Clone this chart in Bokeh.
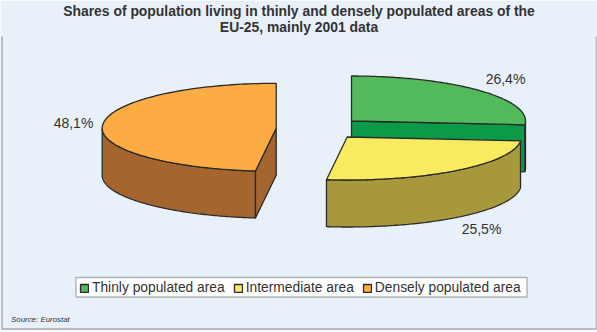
import numpy as np
from bokeh.embed import file_html
from bokeh.resources import INLINE
from bokeh.plotting import figure
from bokeh.models import BoxAnnotation, Legend, LegendItem, Range1d, Title
from bokeh.core.properties import value

categories = ["Thinly populated area", "Intermediate area", "Densely populated area"]
shares = [26.4, 25.5, 48.1]
share_labels = ["26,4%", "25,5%", "48,1%"]
title_lines = ["Shares of population living in thinly and densely populated areas of the",
               "EU-25, mainly 2001 data"]
source_text = "Source: Eurostat"

top_colors = ["#52BA5A", "#F8EB60", "#FCAC42"]
side_colors = ["#0B9A48", "#A7983B", "#A5652F"]
EDGE = "#2A2A2A"
BG = "#E8F0F9"
TEXT = "#333333"

W, H = 597, 332
TITLE_H = 36
RX, RY_BACK, RY_FRONT, DEPTH = 174.0, 45.0, 43.0, 47.0
centers = [(351.0, 120.5), (346.7, 136.5), (275.7, 127.8)]
label_pos = [(505, 78), (481, 228), (73, 122.5)]

p = figure(width=W, height=H, output_backend="svg", toolbar_location=None,
           x_range=Range1d(0, W), y_range=Range1d(H, TITLE_H),
           x_axis_location=None, y_axis_location=None, min_border=0,
           background_fill_color=BG, border_fill_color=BG, outline_line_color=None)
p.grid.visible = False
for i, line in enumerate(title_lines):
    t = p.title if i == 0 else Title()
    t.text = line
    t.align = "center"
    t.text_font = "Liberation Sans"
    t.text_font_size = "13.9px"
    t.text_font_style = "bold"
    t.text_color = TEXT
    t.offset = 0
    t.standoff = 0
    t.vertical_align = "bottom" if i == 0 else "top"
    if i:
        p.add_layout(t, "above")


def ell(cx, cy, t):
    c = np.cos(t)
    return cx + RX * np.sin(t), cy - np.where(c > 0, RY_BACK, RY_FRONT) * c


edges = np.cumsum([0.0] + shares) / sum(shares) * 2 * np.pi
tops = []
for i in [0, 2, 1]:
    cx, cy = centers[i]
    a, b = edges[i], edges[i + 1]
    t = np.linspace(a, b, 120)
    ex, ey = ell(cx, cy, t)
    lo, hi = max(a, np.pi / 2), min(b, 3 * np.pi / 2)
    if hi > lo:
        w = np.linspace(lo, hi, 120)
        wx, wy = ell(cx, cy, w)
        p.patch(list(wx) + list(wx[::-1]), list(wy) + list((wy + DEPTH)[::-1]),
                fill_color=side_colors[i], line_color=EDGE, line_width=1.3)
    # cut face that looks towards the viewer
    ang = b if i == 0 else (a if i == 2 else None)
    if ang is not None:
        sx, sy = ell(cx, cy, ang)
        p.patch([cx, sx, sx, cx], [cy, sy, sy + DEPTH, cy + DEPTH],
                fill_color=side_colors[i], line_color=EDGE, line_width=1.3)
    tops.append((i, p.patch([cx] + list(ex), [cy] + list(ey), fill_color=top_colors[i],
                            line_color=EDGE, line_width=1.3)))

by_series = dict(tops)
p.add_layout(BoxAnnotation(left=75.5, right=526.5, top=277, bottom=296.5, fill_color="white", fill_alpha=1,
                           line_color="#151515", line_width=1.4, level="annotation"))
legend = Legend(items=[LegendItem(label=categories[i], renderers=[by_series[i]]) for i in range(3)],
                orientation="horizontal", location=(79, 37), margin=0, padding=4,
                spacing=8, label_standoff=3, glyph_width=10, glyph_height=10,
                label_text_font="Liberation Sans", label_text_font_size="13.8px",
                label_text_color=TEXT, label_height=14,
                background_fill_alpha=0, border_line_color=None)
p.add_layout(legend, "center")

p.text([q[0] for q in label_pos], [q[1] for q in label_pos], text=share_labels,
       text_font=value("Liberation Sans"), text_font_size="14px", text_color=TEXT,
       text_align="center", text_baseline="middle")
p.text([10.5], [318.5], text=[source_text], text_font=value("Liberation Sans"),
       text_font_size="7.9px", text_font_style="italic", text_color=TEXT,
       text_align="left", text_baseline="middle")

p.add_layout(BoxAnnotation(left=0, right=W, top=330, bottom=H, left_units="canvas", right_units="canvas",
                           top_units="canvas", bottom_units="canvas", fill_color="white", fill_alpha=1, line_color=None, level="overlay"))
p.add_layout(BoxAnnotation(left=1.5, right=596, top=1, bottom=328.5, left_units="canvas", right_units="canvas",
                           top_units="canvas", bottom_units="canvas", fill_alpha=0, line_color="#4A4A4A", line_width=2, level="overlay"))

open("out.html", "w").write(file_html(p, INLINE))
